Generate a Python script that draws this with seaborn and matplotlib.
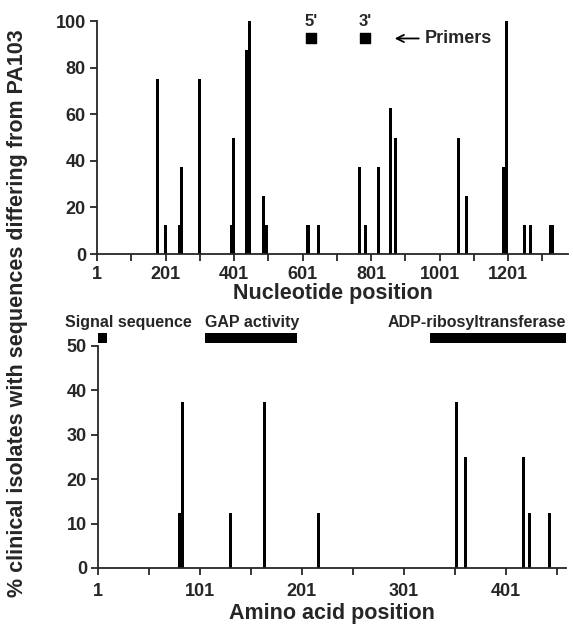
import numpy as np
import matplotlib
matplotlib.use('Agg')
import matplotlib.pyplot as plt
import seaborn as sns

# Nucleotide changes (% of clinical isolates differing from PA103)
nt_pos = [178, 201, 243, 248, 300, 393, 399, 438, 441, 447, 488, 496, 617, 648,
          768, 786, 822, 857, 872, 1055, 1080, 1188, 1196, 1250, 1266, 1326, 1331]
nt_pct = [75, 12.5, 12.5, 37.5, 75, 12.5, 50, 87.5, 87.5, 100, 25, 12.5, 12.5, 12.5,
          37.5, 12.5, 37.5, 62.5, 50, 50, 25, 37.5, 100, 12.5, 12.5, 12.5, 12.5]

# Amino acid changes
aa_pos = [81, 84, 131, 164, 217, 353, 361, 418, 424, 444]
aa_pct = [12.5, 37.5, 12.5, 37.5, 12.5, 37.5, 25, 25, 12.5, 12.5]

# Primers
primer_names = ["5'", "3'"]
primer_pos = [626, 783]

# Protein domains
dom_names = ['Signal sequence', 'GAP activity', 'ADP-ribosyltransferase']
dom_start = [1, 106, 327]
dom_end = [10, 196, 460]

nt_ticks = list(range(1, 1302, 100))
aa_ticks = list(range(1, 452, 50))

sns.set_style('ticks')
plt.rcParams['font.family'] = ['Liberation Sans', 'DejaVu Sans']
plt.rcParams['font.weight'] = 'bold'

fig = plt.figure(figsize=(5.73, 6.26), dpi=100)
ax1 = fig.add_axes([97/573, 1-254/626, 471/573, 233/626])
ax2 = fig.add_axes([98/573, 1-568/626, 468/573, 222/626])

# bar width in data units, converted to seaborn's native width fraction
w1 = 9 / np.diff(np.unique(nt_pos)).min()
w2 = 3 / np.diff(np.unique(aa_pos)).min()
sns.barplot(x=nt_pos, y=nt_pct, native_scale=True, orient='x', width=w1,
            color='black', saturation=1, errorbar=None, linewidth=0, ax=ax1)
sns.barplot(x=aa_pos, y=aa_pct, native_scale=True, orient='x', width=w2,
            color='black', saturation=1, errorbar=None, linewidth=0, ax=ax2)

def style_axis(ax, xmax, ticks, ymax, ystep, xpad):
    ax.set_xlim(1, xmax)
    ax.set_ylim(0, ymax)
    ax.set_xticks(ticks)
    ax.set_xticklabels([str(t) if i % 2 == 0 else '' for i, t in enumerate(ticks)])
    ax.set_yticks(np.arange(0, ymax + 1, ystep))
    ax.tick_params(axis='both', direction='out', length=5, width=1.3,
                   labelsize=13, pad=3)
    ax.tick_params(axis='x', pad=xpad)
    for lbl in ax.get_xticklabels() + ax.get_yticklabels():
        lbl.set_fontweight('bold')
    for s in ['left', 'bottom']:
        ax.spines[s].set_linewidth(1.3)
    sns.despine(ax=ax)

style_axis(ax1, 1376, nt_ticks, 100, 20, 3.5)
style_axis(ax2, 460, aa_ticks, 50, 10, 5.5)

ax1.set_xlabel('Nucleotide position', fontsize=15.5, fontweight='bold', labelpad=0)
ax2.set_xlabel('Amino acid position', fontsize=15.5, fontweight='bold', labelpad=2.5)
ax1.set_ylabel('')
ax2.set_ylabel('')

# primers
ax1.scatter(primer_pos, [92.5] * len(primer_pos), marker='s', s=45,
            color='black', clip_on=False, zorder=3)
for name, p in zip(primer_names, primer_pos):
    ax1.text(p, 96.5, name, ha='center', va='bottom', fontsize=12,
             fontweight='bold')
ax1.annotate('Primers', xy=(862, 92.5), xytext=(958, 92.5), ha='left',
             va='center', fontsize=13, fontweight='bold',
             arrowprops=dict(arrowstyle='->', color='black', lw=1.3))

# domains
ax2.hlines([51.9] * len(dom_names), dom_start, dom_end, color='black',
           linewidth=7.2, clip_on=False)
ax2.text(-31, 54.2, dom_names[0], ha='left', va='baseline', fontsize=11.5,
         fontweight='bold')
ax2.text(dom_start[1], 54.2, dom_names[1], ha='left', va='baseline',
         fontsize=11.5, fontweight='bold')
ax2.text(dom_end[2], 54.2, dom_names[2], ha='right', va='baseline',
         fontsize=11.5, fontweight='bold')

fig.text(0.031, 0.5, '% clinical isolates with sequences differing from PA103',
         rotation=90, ha='center', va='center', fontsize=15.5, fontweight='bold')

fig.savefig('out.png', dpi=100)
